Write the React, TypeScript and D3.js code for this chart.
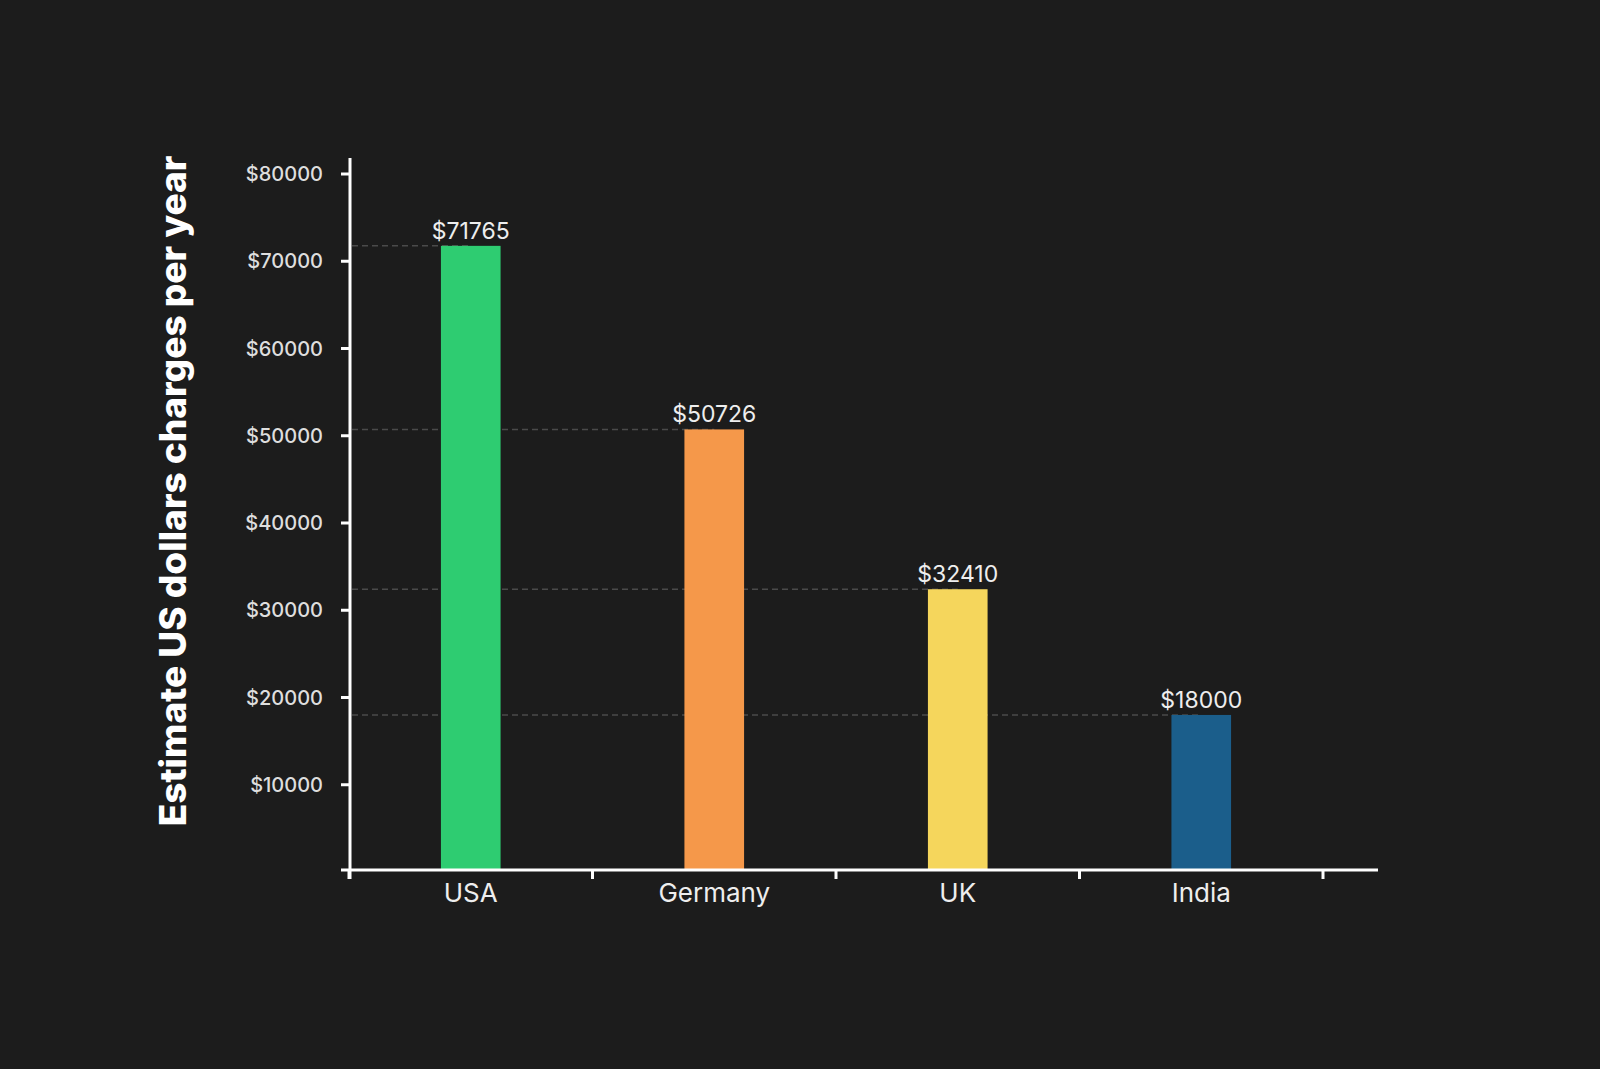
import React, { useEffect, useRef } from "react";
import * as d3 from "d3";

const categories = ["USA", "Germany", "UK", "India"];
const values = [71765, 50726, 32410, 18000];
const barColors = ["#2ecc71", "#f5984a", "#f5d65c", "#1b5e8b"];
const yTicks = [10000, 20000, 30000, 40000, 50000, 60000, 70000, 80000];

const W = 1600;
const H = 1069;
const axisX = 350;
const axisY = 870;
const fontFamily = "Inter, 'Noto Sans', sans-serif";

const App: React.FC = () => {
  const svgRef = useRef<SVGSVGElement | null>(null);

  useEffect(() => {
    document.body.style.margin = "0";
    document.body.style.background = "#1c1c1c";
    if (!svgRef.current) return;
    const svg = d3.select(svgRef.current);
    svg.selectAll("*").remove();

    svg.append("rect").attr("width", W).attr("height", H).attr("fill", "#1c1c1c");

    const x = d3.scaleBand<string>().domain(categories).range([349, 1323]).padding(0);
    const y = d3.scaleLinear().domain([0, 80000]).range([872, 174]);
    const barW = x.bandwidth() * 0.245;

    // dashed guides from the y axis to each bar
    svg
      .append("g")
      .selectAll("line")
      .data(values)
      .enter()
      .append("line")
      .attr("x1", axisX + 2)
      .attr("x2", (d, i) => (x(categories[i]) || 0) + x.bandwidth() / 2)
      .attr("y1", (d) => y(d))
      .attr("y2", (d) => y(d))
      .attr("stroke", "#4a4a4a")
      .attr("stroke-width", 1.5)
      .attr("stroke-dasharray", "6 4");

    // bars
    svg
      .append("g")
      .selectAll("rect")
      .data(values)
      .enter()
      .append("rect")
      .attr("x", (d, i) => (x(categories[i]) || 0) + x.bandwidth() / 2 - barW / 2)
      .attr("y", (d) => y(d))
      .attr("width", barW)
      .attr("height", (d) => axisY - y(d))
      .attr("fill", (d, i) => barColors[i]);

    // value labels
    svg
      .append("g")
      .selectAll("text")
      .data(values)
      .enter()
      .append("text")
      .attr("x", (d, i) => (x(categories[i]) || 0) + x.bandwidth() / 2)
      .attr("y", (d) => y(d) - 7)
      .attr("text-anchor", "middle")
      .attr("font-family", fontFamily)
      .attr("font-size", 23)
      .attr("fill", "#eeeeee")
      .text((d) => `$${d}`);

    // y axis
    const yAxis = svg.append("g");
    yAxis
      .append("line")
      .attr("x1", axisX)
      .attr("x2", axisX)
      .attr("y1", 158)
      .attr("y2", axisY + 9)
      .attr("stroke", "#ffffff")
      .attr("stroke-width", 3);
    yAxis
      .selectAll(".tick")
      .data(yTicks)
      .enter()
      .append("line")
      .attr("x1", 341)
      .attr("x2", axisX)
      .attr("y1", (d) => y(d))
      .attr("y2", (d) => y(d))
      .attr("stroke", "#ffffff")
      .attr("stroke-width", 3);
    yAxis
      .selectAll("text")
      .data(yTicks)
      .enter()
      .append("text")
      .attr("x", 323)
      .attr("y", (d) => y(d))
      .attr("dy", "0.35em")
      .attr("text-anchor", "end")
      .attr("font-family", fontFamily)
      .attr("font-size", 20)
      .attr("font-weight", 500)
      .attr("fill", "#dedede")
      .text((d) => `$${d}`);

    // x axis
    const xAxis = svg.append("g");
    xAxis
      .append("line")
      .attr("x1", 341)
      .attr("x2", 1378)
      .attr("y1", axisY)
      .attr("y2", axisY)
      .attr("stroke", "#ffffff")
      .attr("stroke-width", 3);
    const tickXs = categories.map((c) => x(c) || 0).concat([x.range()[1]]);
    xAxis
      .selectAll(".tick")
      .data(tickXs)
      .enter()
      .append("line")
      .attr("x1", (d) => d)
      .attr("x2", (d) => d)
      .attr("y1", axisY)
      .attr("y2", axisY + 9)
      .attr("stroke", "#ffffff")
      .attr("stroke-width", 3);
    xAxis
      .selectAll("text")
      .data(categories)
      .enter()
      .append("text")
      .attr("x", (d) => (x(d) || 0) + x.bandwidth() / 2)
      .attr("y", 902)
      .attr("text-anchor", "middle")
      .attr("font-family", fontFamily)
      .attr("font-size", 26)
      .attr("fill", "#eeeeee")
      .text((d) => d);

    // y axis title
    svg
      .append("text")
      .attr("transform", `translate(186, 491) rotate(-90)`)
      .attr("text-anchor", "middle")
      .attr("font-family", fontFamily)
      .attr("font-size", 37)
      .attr("font-weight", 800)
      .attr("fill", "#ffffff")
      .text("Estimate US dollars charges per year");
  }, []);

  return <svg ref={svgRef} width={W} height={H} style={{ display: "block" }} />;
};

export default App;
